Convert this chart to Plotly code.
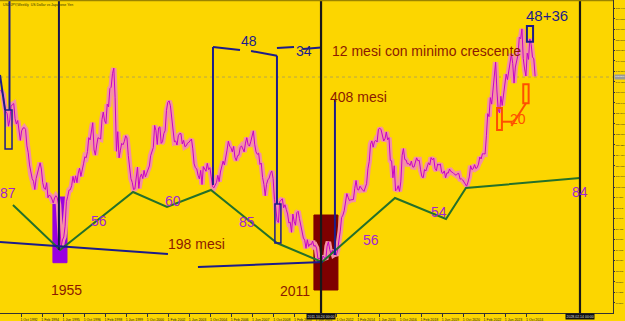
import plotly.graph_objects as go
import pandas as pd

# ---------------- data ----------------
title_text = "USDJPY,Weekly  US Dollar vs Japanese Yen"
start_month = "1991-06-01"

usdjpy_close = [
    # 1991 Jun-Dec
    138.5, 137.5, 136.8, 133.0, 130.5, 129.8, 125.2,
    # 1992
    127.5, 132.5, 133.2, 133.5, 128.0, 126.0, 127.3, 124.0, 120.0, 123.5, 124.5, 124.7,
    # 1993
    124.0, 118.0, 115.5, 111.0, 107.5, 106.0, 105.0, 102.0, 106.0, 108.0, 109.0, 111.8,
    # 1994
    109.5, 104.5, 102.5, 102.0, 104.5, 99.0, 100.0, 99.5, 98.5, 97.0, 98.9, 99.7,
    # 1995
    99.0, 96.5, 88.0, 81.0, 83.5, 84.6, 88.5, 97.5, 99.5, 101.8, 101.9, 103.4,
    # 1996
    106.8, 104.5, 107.0, 104.5, 108.0, 109.8, 106.8, 108.6, 111.4, 114.0, 113.6, 115.9,
    # 1997
    121.0, 120.2, 124.0, 126.5, 116.5, 114.6, 118.3, 121.0, 120.7, 120.5, 127.6, 130.4,
    # 1998
    127.2, 126.2, 133.3, 132.3, 139.0, 139.5, 144.5, 146.5, 135.7, 116.0, 123.2, 113.6,
    # 1999
    116.4, 118.9, 118.4, 119.6, 121.7, 120.9, 114.5, 110.0, 106.0, 104.6, 102.0, 102.2,
    # 2000
    107.3, 110.2, 102.4, 106.5, 107.7, 106.0, 109.0, 106.6, 108.0, 109.0, 110.6, 114.4,
    # 2001
    116.5, 117.4, 125.5, 123.6, 118.5, 124.6, 125.0, 118.9, 119.5, 122.5, 123.6, 131.0,
    # 2002
    134.0, 134.5, 132.7, 128.4, 124.0, 119.5, 119.8, 118.3, 121.7, 122.5, 122.5, 118.7,
    # 2003
    120.0, 117.7, 118.0, 119.0, 119.3, 119.8, 120.5, 116.9, 111.4, 110.0, 109.5, 107.2,
    # 2004
    105.9, 109.0, 103.8, 110.4, 109.5, 108.7, 111.6, 109.3, 110.0, 105.8, 103.1, 102.6,
    # 2005
    103.6, 104.6, 107.2, 104.9, 108.4, 110.8, 112.4, 111.0, 113.4, 116.4, 119.7, 117.9,
    # 2006
    117.3, 115.8, 117.8, 113.8, 112.6, 114.4, 114.6, 117.4, 118.0, 117.0, 115.8, 119.0,
    # 2007
    121.0, 118.5, 117.9, 119.5, 121.7, 123.5, 118.6, 115.8, 114.9, 115.3, 111.2, 111.7,
    # 2008
    106.4, 103.9, 99.7, 103.9, 105.5, 106.2, 107.9, 108.8, 106.0, 98.4, 95.5, 90.6,
    # 2009
    89.9, 97.5, 98.1, 98.6, 95.3, 96.4, 94.7, 93.0, 89.7, 90.0, 86.3, 93.0,
    # 2010
    90.3, 88.9, 93.5, 94.0, 91.3, 88.4, 86.5, 84.2, 83.4, 80.4, 83.6, 81.1,
    # 2011
    82.0, 81.8, 83.1, 81.2, 81.5, 80.5, 76.7, 76.6, 77.0, 76.0, 77.6, 76.9,
    # 2012
    76.3, 81.2, 82.8, 80.0, 78.3, 79.8, 78.1, 78.4, 77.9, 79.8, 82.5, 86.7,
    # 2013
    91.7, 92.6, 94.2, 97.5, 100.5, 99.1, 97.9, 98.2, 98.3, 98.3, 102.4, 105.3,
    # 2014
    102.0, 101.8, 103.2, 102.2, 101.8, 101.3, 102.8, 104.1, 109.6, 112.3, 118.6, 119.8,
    # 2015
    117.5, 119.6, 120.0, 119.4, 124.1, 124.5, 123.9, 121.2, 119.8, 120.6, 123.1, 120.2,
    # 2016
    121.0, 112.7, 112.5, 106.3, 110.7, 101.5, 102.0, 103.4, 101.3, 104.8, 114.5, 117.0,
    # 2017
    113.0, 112.8, 111.4, 111.5, 110.8, 112.4, 110.3, 110.2, 112.5, 113.6, 112.5, 112.7,
    # 2018
    109.2, 106.7, 106.3, 109.3, 108.8, 110.7, 111.8, 111.0, 113.7, 112.9, 113.5, 109.7,
    # 2019
    108.9, 111.4, 110.9, 111.4, 108.3, 107.9, 108.8, 106.3, 108.1, 108.0, 109.5, 108.6,
    # 2020
    108.4, 107.9, 107.5, 107.2, 107.8, 107.9, 105.8, 105.9, 105.5, 104.7, 104.3, 103.2,
    # 2021
    104.7, 106.6, 110.7, 109.3, 109.6, 111.1, 109.7, 110.0, 111.3, 113.9, 113.2, 115.1,
    # 2022
    115.1, 115.0, 121.7, 129.8, 128.7, 135.7, 133.3, 138.9, 144.7, 148.7, 138.1, 131.1,
    # 2023
    130.1, 136.2, 132.8, 136.3, 139.3, 144.3, 142.3, 145.5, 149.4, 151.7, 148.2, 141.0,
    # 2024
    146.9, 150.0, 151.4, 157.8, 157.3, 160.9, 150.0, 146.2, 143.6, 152.0, 149.7, 157.2,
    # 2025
    155.2, 150.6, 149.9, 143.5,
]

x_tick_labels = [
    "1 Jun 1991", "1 Oct 1992", "1 Feb 1994", "1 Jun 1995", "1 Oct 1996",
    "1 Feb 1998", "1 Jun 1999", "1 Oct 2000", "1 Feb 2002", "1 Jun 2003",
    "1 Oct 2004", "1 Feb 2006", "1 Jun 2007", "1 Oct 2008", "1 Feb 2010",
    "1 Jun 2011", "1 Oct 2012", "1 Feb 2014", "1 Jun 2015", "1 Oct 2016",
    "1 Feb 2018", "1 Jun 2019", "1 Oct 2020", "1 Feb 2022", "1 Jun 2023",
    "1 Oct 2024",
]

current_price = 143.24
cursor_labels = ["2011.10.24 00:00", "2028.02.14 00:00"]
cursor_years = [2011.74, 2028.13]

# hand-drawn trend lines (year, price)
green_x = [1992.24, 1995.22, 1999.84, 2001.99, 2004.77, 2008.95, 2011.80,
           2016.42, 2019.65, 2020.91, 2028.13]
green_y = [96.30, 79.81, 101.07, 95.57, 101.81, 82.37, 75.41,
           98.87, 91.17, 102.54, 106.21]

count_labels = ["87", "56", "60", "85", "56", "54", "84"]
count_x = [1991.93, 1997.69, 2002.34, 2007.05, 2014.90, 2019.20, 2028.16]
count_y = [100.71, 90.44, 97.77, 90.07, 83.47, 93.74, 101.07]

note_labels = ["198 mesi", "1955", "2011", "408 mesi", "12 mesi con minimo crescente"]
note_x = [2003.85, 1995.64, 2010.09, 2014.14, 2018.43]
note_y = [82.0, 65.0, 64.8, 135.8, 152.6]

navy_labels = ["48", "34", "48+36"]
navy_x = [2007.21, 2010.64, 2026.04]
navy_y = [156.45, 152.78, 165.8]

# ---------------- styling ----------------
BG = "#FCD600"
NAVY = "#1C1C8A"
BLACK = "#181818"
GREEN = "#24702A"
PURPLE_TXT = "#A224D4"
RED_TXT = "#8C1A00"
ORANGE = "#FF5000"
FONT = "Liberation Sans, Arial, sans-serif"

months = pd.date_range(start_month, periods=len(usdjpy_close), freq="MS")
x_years = [d.year + (d.month - 1) / 12 + 0.04 for d in months]

month_num = {"Jan": 1, "Feb": 2, "Mar": 3, "Apr": 4, "May": 5, "Jun": 6,
             "Jul": 7, "Aug": 8, "Sep": 9, "Oct": 10, "Nov": 11, "Dec": 12}
x_tick_vals = []
for lab in x_tick_labels:
    _, m, y = lab.split()
    x_tick_vals.append(int(y) + (month_num[m] - 1) / 12)

fig = go.Figure()

fig.add_trace(go.Scatter(x=x_years, y=usdjpy_close, mode="lines",
                         line=dict(color="#F590A4", width=5.5),
                         hoverinfo="skip", showlegend=False))
fig.add_trace(go.Scatter(x=x_years, y=usdjpy_close, mode="lines",
                         line=dict(color="#C800C8", width=1),
                         hoverinfo="skip", showlegend=False))
fig.add_trace(go.Scatter(x=green_x, y=green_y, mode="lines",
                         line=dict(color=GREEN, width=2),
                         hoverinfo="skip", showlegend=False))

shapes = []


def seg(x0, y0, x1, y1, color=NAVY, width=2, layer="above", dash="solid"):
    shapes.append(dict(type="line", xref="x", yref="y", x0=x0, y0=y0, x1=x1, y1=y1,
                       line=dict(color=color, width=width, dash=dash), layer=layer))


def box(x0, y0, x1, y1, line_color, fill=None, width=1.5, layer="above"):
    shapes.append(dict(type="rect", xref="x", yref="y", x0=x0, y0=y0, x1=x1, y1=y1,
                       line=dict(color=line_color, width=width),
                       fillcolor=fill if fill else "rgba(0,0,0,0)", layer=layer))


# filled boxes behind the price
box(1994.77, 75.15, 1995.66, 99.24, "#9A00E0", "#9A00E0", 1, "below")
box(2011.29, 65.14, 2012.81, 92.64, "#7E0000", "#7E0000", 1, "below")

# current price dotted line
shapes.append(dict(type="line", xref="paper", yref="y", x0=0, x1=1,
                   y0=current_price, y1=current_price,
                   line=dict(color="#B8A64A", width=1, dash="dot"), layer="below"))

# navy drawings
seg(1992.02, 171.48, 1992.02, 131.14)
seg(1991.42, 143.98, 1991.74, 131.14)
box(1991.74, 116.84, 1992.18, 131.14, NAVY)
seg(1995.15, 171.48, 1995.15, 79.81, color="#161650")
seg(1991.42, 82.74, 2002.05, 78.34)
seg(2003.95, 73.57, 2011.86, 75.41)
seg(2004.90, 154.25, 2004.90, 103.64)
seg(2004.90, 154.25, 2006.61, 153.15)
seg(2007.31, 152.78, 2008.95, 151.06)
seg(2008.95, 151.06, 2008.95, 96.67)
box(2008.82, 82.37, 2009.20, 96.67, NAVY)
seg(2008.95, 153.88, 2010.03, 154.25)
seg(2010.60, 153.51, 2011.74, 154.06)
seg(2012.62, 134.81, 2012.62, 77.97)
box(2024.77, 156.19, 2025.16, 161.95, NAVY, None, 2)

# orange drawings
box(2022.88, 123.81, 2023.19, 131.88, ORANGE, None, 2)
box(2024.54, 133.59, 2024.88, 140.57, ORANGE, None, 2)
seg(2023.19, 126.85, 2023.83, 126.85, color=ORANGE)
seg(2024.71, 133.59, 2023.79, 125.3, color=ORANGE)

# black cursor lines (full height)
for cx in cursor_years:
    shapes.append(dict(type="line", xref="x", yref="paper", x0=cx, x1=cx, y0=0, y1=1,
                       line=dict(color=BLACK, width=2.2), layer="above"))

# top border
shapes.append(dict(type="line", xref="paper", yref="paper", x0=0, x1=1, y0=1, y1=1,
                   line=dict(color="#9C8400", width=2.5), layer="above"))

annotations = []
for t, x, y in zip(count_labels, count_x, count_y):
    annotations.append(dict(x=x, y=y, xref="x", yref="y", text=t, showarrow=False,
                            font=dict(family=FONT, size=14, color=PURPLE_TXT)))
for t, x, y in zip(note_labels, note_x, note_y):
    annotations.append(dict(x=x, y=y, xref="x", yref="y", text=t, showarrow=False,
                            font=dict(family=FONT, size=14, color=RED_TXT)))
for t, x, y in zip(navy_labels, navy_x, navy_y):
    annotations.append(dict(x=x, y=y, xref="x", yref="y", text=t, showarrow=False,
                            font=dict(family=FONT, size=15 if "+" in t else 14, color=NAVY)))
annotations.append(dict(x=2024.20, y=127.8, xref="x", yref="y", text="20", showarrow=False,
                        font=dict(family=FONT, size=14, color=ORANGE)))

annotations.append(dict(x=0, y=1, xref="paper", yref="paper", text=title_text,
                        showarrow=False, xanchor="left", yanchor="top", xshift=1, yshift=-1,
                        font=dict(family=FONT, size=3.5, color="#333300")))
for t, cx in zip(cursor_labels, cursor_years):
    annotations.append(dict(x=cx, y=-0.012, xref="x", yref="paper", text=t,
                            showarrow=False, yanchor="middle", bgcolor="#101010",
                            borderpad=0.5,
                            font=dict(family=FONT, size=3.5, color="#DDDDDD")))
annotations.append(dict(x=1, y=current_price, xref="paper", yref="y",
                        text=f"{current_price:.3f}", showarrow=False, xanchor="left",
                        bgcolor="#9A9A9A", borderpad=0.3, xshift=0.5,
                        font=dict(family=FONT, size=2.5, color="#FFFFFF")))

fig.update_layout(
    width=625, height=321, autosize=False,
    margin=dict(l=0, r=12, t=0, b=8, pad=0),
    paper_bgcolor=BG, plot_bgcolor=BG,
    shapes=shapes, annotations=annotations,
    showlegend=False,
    xaxis=dict(range=[1991.42, 2030.22], tickvals=x_tick_vals, ticktext=x_tick_labels,
               ticks="outside", ticklen=3, tickcolor="#333", tickwidth=1,
               ticklabelshift=8, ticklabelstandoff=0,
               tickfont=dict(family=FONT, size=3.5, color="#222"),
               showline=True, linecolor="#333", linewidth=1,
               showgrid=False, zeroline=False, automargin=False, fixedrange=True),
    yaxis=dict(range=[56.71, 171.48], side="right", tick0=60.5, dtick=3.855,
               tickformat=".3f", ticks="outside", ticklen=1, tickcolor="#333",
               ticklabelstandoff=0,
               tickfont=dict(family=FONT, size=2.5, color="#222"),
               showline=True, linecolor="#333", linewidth=1,
               showgrid=False, zeroline=False, automargin=False, fixedrange=True),
)

fig.write_html("out.html", config={"displayModeBar": False})
